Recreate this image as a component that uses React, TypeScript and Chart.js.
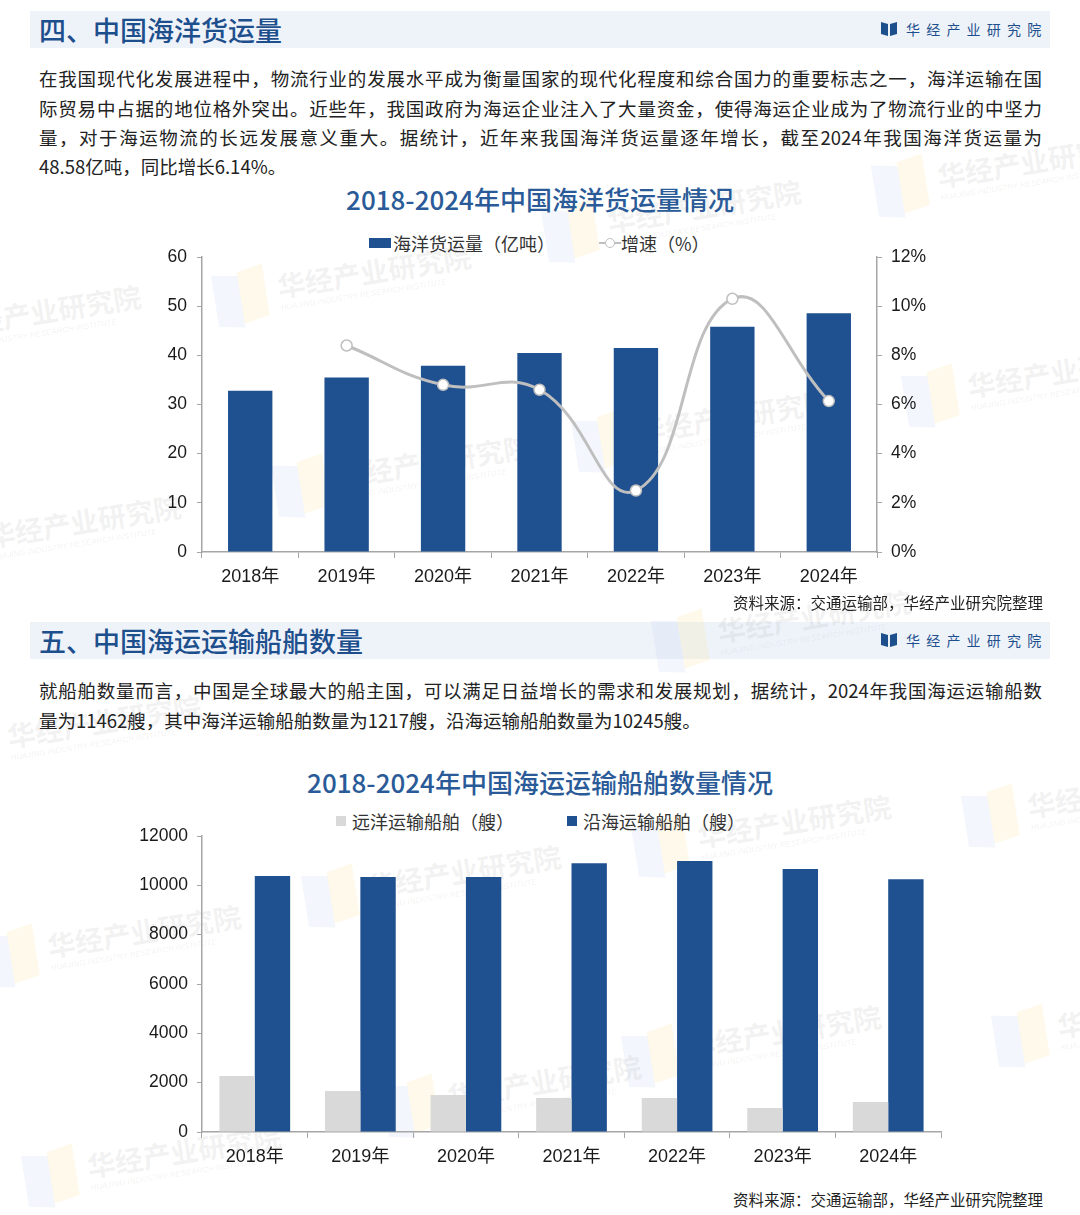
import React, { useEffect, useRef } from "react";
import { Chart, registerables } from "chart.js";

Chart.register(...registerables);

// ---- data ----
const years = ["2018年", "2019年", "2020年", "2021年", "2022年", "2023年", "2024年"];
const cargoVolume = [32.8, 35.5, 37.9, 40.5, 41.5, 45.8, 48.58]; // 亿吨
const cargoGrowth = [null, 8.4, 6.8, 6.6, 2.5, 10.3, 6.14]; // %
const oceanShips = [2270, 1660, 1500, 1380, 1380, 975, 1217]; // 艘
const coastalShips = [10380, 10340, 10340, 10900, 10985, 10660, 10245]; // 艘

const cargoLabel = "海洋货运量（亿吨）";
const growthLabel = "增速（%）";
const oceanLabel = "远洋运输船舶（艘）";
const coastalLabel = "沿海运输船舶（艘）";

const section1Title = "四、中国海洋货运量";
const section2Title = "五、中国海运运输船舶数量";
const chart1Title = "2018-2024年中国海洋货运量情况";
const chart2Title = "2018-2024年中国海运运输船舶数量情况";
const sourceNote = "资料来源：交通运输部，华经产业研究院整理";
const brandName = "华经产业研究院";
const brandNameEn = "HUAJING INDUSTRY RESEARCH INSTITUTE";

const para1Lines = [
  "在我国现代化发展进程中，物流行业的发展水平成为衡量国家的现代化程度和综合国力的重要标志之一，海洋运输在国",
  "际贸易中占据的地位格外突出。近些年，我国政府为海运企业注入了大量资金，使得海运企业成为了物流行业的中坚力",
  "量，对于海运物流的长远发展意义重大。据统计，近年来我国海洋货运量逐年增长，截至2024年我国海洋货运量为",
  "48.58亿吨，同比增长6.14%。",
];
const para2Lines = [
  "就船舶数量而言，中国是全球最大的船主国，可以满足日益增长的需求和发展规划，据统计，2024年我国海运运输船数",
  "量为11462艘，其中海洋运输船舶数量为1217艘，沿海运输船舶数量为10245艘。",
];

// background brand stamps: [x, y]
const stampSpots: [number, number][] = [
  [210, 270], [-120, 310], [870, 160], [540, 205], [900, 370], [270, 460], [570, 415], [-80, 520],
  [650, 615], [-60, 720], [300, 870], [630, 820], [-20, 930], [620, 1030], [960, 790], [20, 1150],
  [380, 1080], [990, 1010],
];

// ---- styles ----
const NAVY = "#1f5090";
const LIGHT_GRAY = "#d9d9d9";
const LINE_GRAY = "#bfbfbf";
const AXIS_GRAY = "#a6a6a6";
const HEAD_BLUE = "#1e4f8d";
const CJK = '"Noto Sans CJK SC", "Noto Sans", sans-serif';
const TICK_FONT = '"Liberation Sans", "Noto Sans CJK SC", sans-serif';

function fixWidth(w: number) {
  return (scale: any) => {
    scale.width = w;
  };
}
function fixHeight(h: number) {
  return (scale: any) => {
    scale.height = h;
  };
}

function CargoChart() {
  const ref = useRef<HTMLCanvasElement>(null);
  useEffect(() => {
    const chart = new Chart(ref.current!, {
      type: "bar",
      data: {
        labels: years,
        datasets: [
          {
            type: "line",
            label: growthLabel,
            data: cargoGrowth,
            yAxisID: "y1",
            borderColor: LINE_GRAY,
            borderWidth: 3,
            tension: 0.45,
            pointRadius: 5.5,
            pointBackgroundColor: "#ffffff",
            pointBorderColor: LINE_GRAY,
            pointBorderWidth: 1.5,
            order: 0,
          } as any,
          {
            type: "bar",
            label: cargoLabel,
            data: cargoVolume,
            yAxisID: "y",
            backgroundColor: NAVY,
            barPercentage: 0.46,
            categoryPercentage: 1,
            order: 1,
          },
        ],
      },
      options: {
        animation: false,
        responsive: false,
        maintainAspectRatio: false,
        layout: { padding: { top: 27, left: 0, right: 0, bottom: 0 } },
        plugins: { legend: { display: false }, title: { display: false }, tooltip: { enabled: false } },
        scales: {
          x: {
            offset: true,
            afterFit: fixHeight(48),
            grid: { drawOnChartArea: false, drawTicks: true, tickLength: 6, color: AXIS_GRAY, offset: true },
            border: { display: true, color: AXIS_GRAY, width: 1.5 },
            ticks: { color: "#1a1a1a", font: { family: TICK_FONT, size: 18 }, padding: 8 },
          },
          y: {
            position: "left",
            min: 0,
            max: 60,
            afterFit: fixWidth(52),
            ticks: { stepSize: 10, color: "#1a1a1a", font: { family: TICK_FONT, size: 17.5 }, padding: 10 },
            grid: { drawOnChartArea: false, drawTicks: true, tickLength: 5, color: AXIS_GRAY },
            border: { display: true, color: AXIS_GRAY, width: 1.5 },
          },
          y1: {
            position: "right",
            min: 0,
            max: 12,
            afterFit: fixWidth(73),
            ticks: {
              stepSize: 2,
              color: "#1a1a1a",
              font: { family: TICK_FONT, size: 17.5 },
              padding: 9,
              callback: (v: any) => v + "%",
            },
            grid: { drawOnChartArea: false, drawTicks: true, tickLength: 5, color: AXIS_GRAY },
            border: { display: true, color: AXIS_GRAY, width: 1.5 },
          },
        },
      },
    });
    return () => chart.destroy();
  }, []);
  return <canvas ref={ref} width={800} height={370} style={{ position: "absolute", left: 150, top: 230, width: 800, height: 370 }} />;
}

function ShipChart() {
  const ref = useRef<HTMLCanvasElement>(null);
  useEffect(() => {
    const chart = new Chart(ref.current!, {
      type: "bar",
      data: {
        labels: years,
        datasets: [
          {
            label: oceanLabel,
            data: oceanShips,
            backgroundColor: LIGHT_GRAY,
            barPercentage: 1,
            categoryPercentage: 0.67,
          },
          {
            label: coastalLabel,
            data: coastalShips,
            backgroundColor: NAVY,
            barPercentage: 1,
            categoryPercentage: 0.67,
          },
        ],
      },
      options: {
        animation: false,
        responsive: false,
        maintainAspectRatio: false,
        layout: { padding: { top: 21, left: 0, right: 19, bottom: 0 } },
        plugins: { legend: { display: false }, title: { display: false }, tooltip: { enabled: false } },
        scales: {
          x: {
            offset: true,
            afterFit: fixHeight(48),
            grid: { drawOnChartArea: false, drawTicks: true, tickLength: 6, color: AXIS_GRAY, offset: true },
            border: { display: true, color: AXIS_GRAY, width: 1.5 },
            ticks: { color: "#1a1a1a", font: { family: TICK_FONT, size: 18 }, padding: 8 },
          },
          y: {
            min: 0,
            max: 12000,
            afterFit: fixWidth(72),
            ticks: {
              stepSize: 2000,
              color: "#1a1a1a",
              font: { family: TICK_FONT, size: 17.5 },
              padding: 9,
              callback: (v: any) => String(v),
            },
            grid: { drawOnChartArea: false, drawTicks: true, tickLength: 5, color: AXIS_GRAY },
            border: { display: true, color: AXIS_GRAY, width: 1.5 },
          },
        },
      },
    });
    return () => chart.destroy();
  }, []);
  return <canvas ref={ref} width={830} height={365} style={{ position: "absolute", left: 130, top: 815, width: 830, height: 365 }} />;
}

function Stamp({ x, y }: { x: number; y: number }) {
  return (
    <div
      style={{
        position: "absolute",
        left: x,
        top: y,
        width: 260,
        height: 70,
        transform: "rotate(-9deg)",
        transformOrigin: "left top",
        pointerEvents: "none",
      }}
    >
      <div style={{ position: "absolute", left: 0, top: 8, width: 26, height: 52, background: "rgba(200,215,240,0.22)", transform: "skewY(10deg)" }} />
      <div style={{ position: "absolute", left: 26, top: 4, width: 26, height: 52, background: "rgba(250,232,170,0.25)", transform: "skewY(-10deg)" }} />
      <div
        style={{
          position: "absolute",
          left: 64,
          top: 6,
          fontFamily: CJK,
          fontWeight: 700,
          fontSize: 28,
          color: "rgba(120,120,120,0.10)",
          whiteSpace: "nowrap",
        }}
      >
        {brandName}
      </div>
      <div
        style={{
          position: "absolute",
          left: 64,
          top: 44,
          fontFamily: '"Liberation Sans", sans-serif',
          fontStyle: "italic",
          fontSize: 8,
          color: "rgba(120,120,120,0.10)",
          whiteSpace: "nowrap",
        }}
      >
        {brandNameEn}
      </div>
    </div>
  );
}

function BrandMark({ top }: { top: number }) {
  return (
    <div style={{ position: "absolute", left: 881, top, height: 20, display: "flex", alignItems: "center" }}>
      <svg width="16" height="16" viewBox="0 0 16 16" style={{ marginRight: 9 }}>
        <path d="M0 1 L7 3 L7 15 L0 13 Z" fill={HEAD_BLUE} />
        <path d="M9 3 L16 1 L16 13 L9 15 Z" fill={HEAD_BLUE} />
      </svg>
      <span style={{ fontFamily: CJK, fontSize: 14, color: HEAD_BLUE, letterSpacing: 6.2, whiteSpace: "nowrap" }}>{brandName}</span>
    </div>
  );
}

function SectionHeader({ top, text }: { top: number; text: string }) {
  return (
    <>
      <div style={{ position: "absolute", left: 30, top, width: 1020, height: 37, background: "#eef3fa" }} />
      <div
        style={{
          position: "absolute",
          left: 39,
          top,
          height: 37,
          lineHeight: "37px",
          fontFamily: CJK,
          fontWeight: 500,
          fontSize: 27,
          color: HEAD_BLUE,
          whiteSpace: "nowrap",
        }}
      >
        {text}
      </div>
      <BrandMark top={top + 8} />
    </>
  );
}

function Paragraph({ lines, firstCenter }: { lines: string[]; firstCenter: number }) {
  const lh = 29.4;
  return (
    <div style={{ position: "absolute", left: 39, top: firstCenter - lh / 2, width: 1003 }}>
      {lines.map((l, i) => {
        const last = i === lines.length - 1;
        return (
          <div
            key={i}
            style={{
              fontFamily: CJK,
              fontSize: 18.5,
              lineHeight: lh + "px",
              height: lh,
              color: "#222",
              whiteSpace: "nowrap",
              textAlign: last ? "left" : "justify",
              textAlignLast: last ? "left" : "justify",
              textJustify: "inter-character" as any,
            }}
          >
            {l}
          </div>
        );
      })}
    </div>
  );
}

function ChartTitle({ center, text }: { center: number; text: string }) {
  return (
    <div
      style={{
        position: "absolute",
        left: 0,
        width: 1080,
        top: center - 18,
        height: 36,
        lineHeight: "36px",
        textAlign: "center",
        fontFamily: CJK,
        fontWeight: 500,
        fontSize: 26,
        color: "#2a5b98",
      }}
    >
      {text}
    </div>
  );
}

const legendText: React.CSSProperties = {
  fontFamily: CJK,
  fontSize: 18,
  color: "#333",
  whiteSpace: "nowrap",
};

function CargoLegend() {
  return (
    <div style={{ position: "absolute", left: 369, top: 231, height: 24, display: "flex", alignItems: "center" }}>
      <div style={{ width: 22, height: 10, background: NAVY, marginRight: 2 }} />
      <span style={legendText}>{cargoLabel}</span>
      <div style={{ position: "relative", width: 22, height: 10, marginLeft: 44, marginRight: 0 }}>
        <div style={{ position: "absolute", left: 0, top: 4, width: 22, height: 2, background: LINE_GRAY }} />
        <div
          style={{
            position: "absolute",
            left: 6,
            top: 0,
            width: 8,
            height: 8,
            borderRadius: 5,
            background: "#fff",
            border: `1px solid ${LINE_GRAY}`,
          }}
        />
      </div>
      <span style={legendText}>{growthLabel}</span>
    </div>
  );
}

function ShipLegend() {
  return (
    <div style={{ position: "absolute", left: 336, top: 809, height: 24, display: "flex", alignItems: "center" }}>
      <div style={{ width: 10, height: 10, background: LIGHT_GRAY, marginRight: 6 }} />
      <span style={legendText}>{oceanLabel}</span>
      <div style={{ width: 10, height: 10, background: NAVY, marginLeft: 53, marginRight: 6 }} />
      <span style={legendText}>{coastalLabel}</span>
    </div>
  );
}

function Source({ center }: { center: number }) {
  return (
    <div
      style={{
        position: "absolute",
        right: 1080 - 1043,
        top: center - 11,
        height: 22,
        lineHeight: "22px",
        fontFamily: CJK,
        fontSize: 15.5,
        color: "#222",
        whiteSpace: "nowrap",
      }}
    >
      {sourceNote}
    </div>
  );
}

export default function App() {
  return (
    <div style={{ position: "absolute", left: 0, top: 0, width: 1080, height: 1215, background: "#fff", overflow: "hidden" }}>
      <SectionHeader top={11} text={section1Title} />
      <SectionHeader top={622} text={section2Title} />
      {stampSpots.map(([x, y], i) => (
        <Stamp key={i} x={x} y={y} />
      ))}
      <Paragraph lines={para1Lines} firstCenter={79} />
      <ChartTitle center={199} text={chart1Title} />
      <CargoLegend />
      <CargoChart />
      <Source center={602} />

      <Paragraph lines={para2Lines} firstCenter={691} />
      <ChartTitle center={782} text={chart2Title} />
      <ShipLegend />
      <ShipChart />
      <Source center={1199} />
    </div>
  );
}
